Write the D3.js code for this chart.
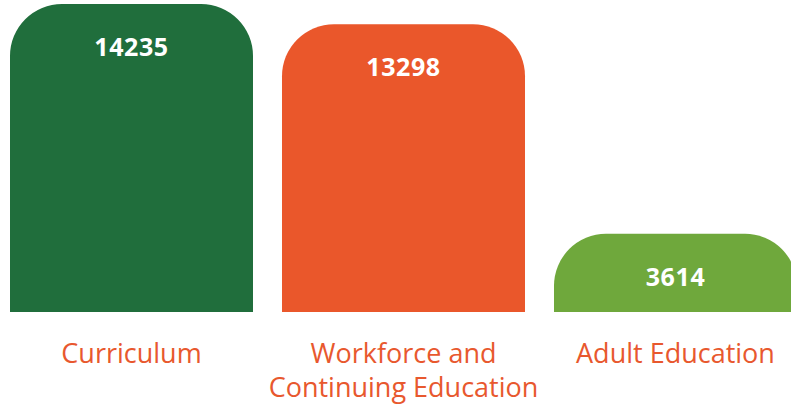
<!DOCTYPE html>
<html>
<head>
<meta charset="utf-8">
<script src="https://cdn.jsdelivr.net/npm/d3@7"></script>
<style>
  html, body { margin: 0; padding: 0; background: #fff; }
  #chart { width: 791px; height: 406px; overflow: hidden; }
</style>
</head>
<body>
<div id="chart"></div>
<script>
const categories = ['Curriculum', 'Workforce and Continuing Education', 'Adult Education']
const labelLines = [['Curriculum'], ['Workforce and', 'Continuing Education'], ['Adult Education']]
const values = [14235, 13298, 3614]
const colors = ['#206e3c', '#ea572b', '#6fa83c']

const width = 791
const height = 406
const baseline = 312
const radius = 52

const svg = d3.select('#chart')
  .append('svg')
  .attr('width', width)
  .attr('height', height)

const x = d3.scaleBand()
  .domain(categories)
  .range([10, 797])
  .paddingInner(0.1066)
  .paddingOuter(0)

const y = d3.scaleLinear()
  .domain([0, d3.max(values)])
  .range([baseline, 4])

// bar with rounded top corners, square bottom
function barPath (x0, y0, w, h) {
  const r = Math.min(radius, h, w / 2)
  return `M${x0},${y0 + h}` +
    `V${y0 + r}` +
    `A${r},${r} 0 0 1 ${x0 + r},${y0}` +
    `H${x0 + w - r}` +
    `A${r},${r} 0 0 1 ${x0 + w},${y0 + r}` +
    `V${y0 + h}Z`
}

const data = categories.map((c, i) => ({ cat: c, value: values[i], color: colors[i], lines: labelLines[i] }))

svg.selectAll('.bar')
  .data(data)
  .join('path')
  .attr('class', 'bar')
  .attr('fill', d => d.color)
  .attr('d', d => barPath(x(d.cat), y(d.value), x.bandwidth(), baseline - y(d.value)))

svg.selectAll('.value')
  .data(data)
  .join('text')
  .attr('class', 'value')
  .attr('x', d => x(d.cat) + x.bandwidth() / 2)
  .attr('y', d => y(d.value) + 52)
  .attr('text-anchor', 'middle')
  .attr('fill', '#fff')
  .style('font-family', '"Open Sans", sans-serif')
  .style('font-weight', 700)
  .style('font-size', '25px')
  .style('letter-spacing', '0.6px')
  .text(d => d.value)

const labels = svg.selectAll('.label')
  .data(data)
  .join('text')
  .attr('class', 'label')
  .attr('text-anchor', 'middle')
  .attr('fill', '#e8582e')
  .style('font-family', '"Open Sans", sans-serif')
  .style('font-size', '27px')

labels.selectAll('tspan')
  .data(d => d.lines.map(l => ({ l, cx: x(d.cat) + x.bandwidth() / 2 })))
  .join('tspan')
  .attr('x', d => d.cx)
  .attr('y', (d, i) => 363 + i * 34)
  .text(d => d.l)
</script>
</body>
</html>
